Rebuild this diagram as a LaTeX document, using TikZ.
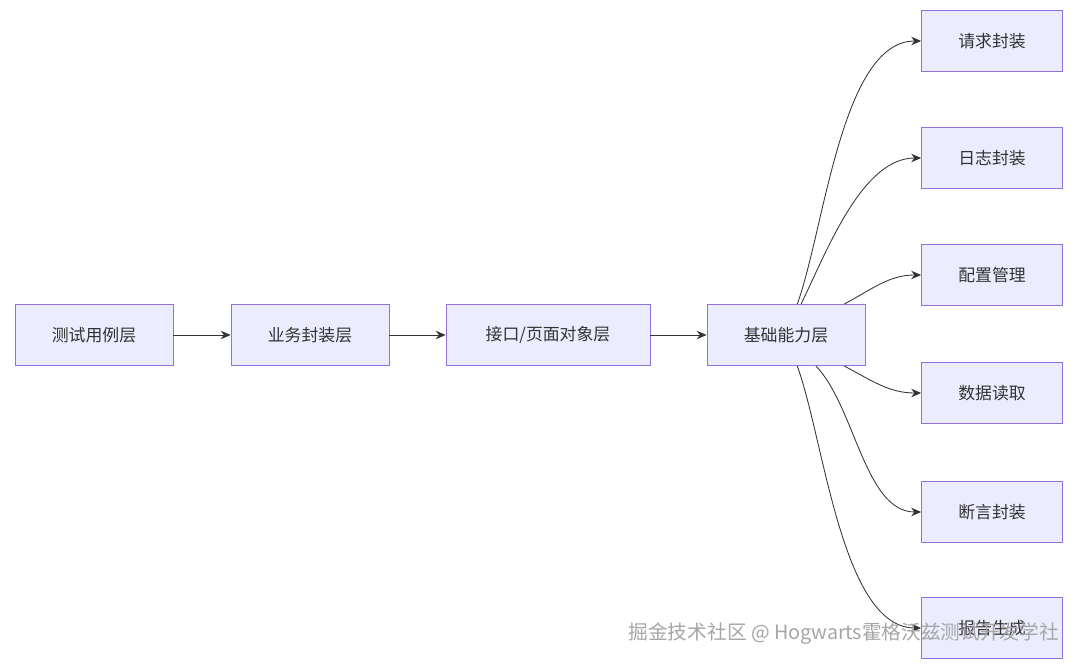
\documentclass[tikz,border=0pt]{standalone}
\usepackage{fontspec}
\setmainfont{Noto Sans CJK SC}
\usetikzlibrary{arrows.meta, positioning}
\definecolor{boxFill}{RGB}{236, 236, 255}
\definecolor{boxLine}{RGB}{147, 112, 219}
\definecolor{lineCol}{RGB}{51, 51, 51}

\begin{document}
\begin{tikzpicture}[x=0.025cm, y=0.025cm,
    every node/.style={font=\fontsize{12}{14}\selectfont, text=lineCol},
    layer/.style={draw=boxLine, fill=boxFill, line width=0.6pt, minimum width=158*0.025cm, minimum height=61*0.025cm, inner sep=0pt},
    part/.style={layer, minimum width=141*0.025cm},
    edge/.style={draw=lineCol, line width=0.6pt, -{Stealth[length=7pt, width=6pt]}}]
    \useasboundingbox[fill=white] (0, 0) rectangle (1080, 666);

    % --- Ebenen ---
    \node[layer] (cases) at (94, 331) {测试用例层};
    \node[layer] (service) at (310, 331) {业务封装层};
    \node[layer, minimum width=204*0.025cm] (pages) at (548, 331) {接口/页面对象层};
    \node[layer] (base) at (786, 331) {基础能力层};

    % --- Bausteine ---
    \node[part] (request) at (992, 625) {请求封装};
    \node[part] (logging) at (992, 508) {日志封装};
    \node[part] (config) at (992, 391) {配置管理};
    \node[part] (dataread) at (992, 273) {数据读取};
    \node[part] (assertion) at (992, 154) {断言封装};
    \node[part] (report) at (992, 38) {报告生成};

    % --- Pfeile ---
    \draw[edge] (cases) -- (service);
    \draw[edge] (service) -- (pages);
    \draw[edge] (pages) -- (base);
    \draw[edge] (base) to[out=70, in=180, looseness=0.7] (request.west);
    \draw[edge] (base) to[out=64, in=180, looseness=0.8] (logging.west);
    \draw[edge] (base) to[out=28, in=180] (config.west);
    \draw[edge] (base) to[out=-28, in=180] (dataread.west);
    \draw[edge] (base) to[out=-46, in=180, looseness=0.8] (assertion.west);
    \draw[edge] (base) to[out=-70, in=180, looseness=0.7] (report.west);

    % Wasserzeichen
    \node[anchor=east, text=gray!70, font=\fontsize{14}{16}\selectfont] (mark) at (1064, 32) {掘金技术社区 @ Hogwarts霍格沃兹测试开发学社};
\end{tikzpicture}
\end{document}
